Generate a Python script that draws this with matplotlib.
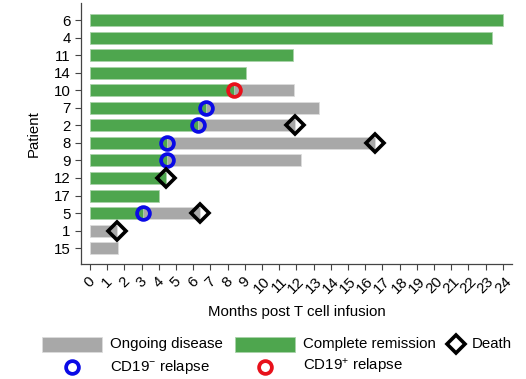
import numpy as np
import matplotlib.pyplot as plt
from matplotlib.patches import Rectangle
from matplotlib.lines import Line2D

plt.rcParams['font.family'] = ['Liberation Sans', 'DejaVu Sans']
plt.rcParams['mathtext.fontset'] = 'custom'
plt.rcParams['mathtext.rm'] = 'Liberation Sans'
plt.rcParams['mathtext.it'] = 'Liberation Sans:italic'

# swimmer data, top row first (months post infusion)
patients = ['6', '4', '11', '14', '10', '7', '2', '8', '9', '12', '17', '5', '1', '15']
remission = [24.0, 23.35, 11.8, 9.05, 8.35, 6.76, 6.3, 4.45, 4.45, 4.4, 3.99, 3.06, 0, 0]
follow_up = [24.0, 23.35, 11.8, 9.05, 11.86, 13.3, 11.9, 16.57, 12.27, 4.4, 3.99, 6.4, 1.55, 1.65]
cd19neg_pts = ['7', '2', '8', '9', '5']
cd19neg_time = [6.76, 6.3, 4.45, 4.45, 3.06]
cd19pos_pts = ['10']
cd19pos_time = [8.35]
death_pts = ['2', '8', '12', '5', '1']
death_time = [11.9, 16.57, 4.4, 6.4, 1.55]

GREEN = '#4ea64e'
GRAY = '#a8a8a8'
BLUE = '#0a0ae6'
RED = '#e8101a'
FS = 10.8
W, H = 526, 379

y = np.arange(len(patients))
row = {p: i for i, p in enumerate(patients)}
remission = np.array(remission)
follow_up = np.array(follow_up)

fig = plt.figure(figsize=(W / 100, H / 100), dpi=100)
ax = fig.add_axes([81 / W, 1 - 264 / H, (512 - 81) / W, (264 - 3) / H])

ongoing = follow_up - remission
m = ongoing > 0
ax.barh(y[m], ongoing[m], left=remission[m], height=0.68, color=GRAY,
        edgecolor='#dcdcdc', linewidth=0.6, zorder=2)
m = remission > 0
ax.barh(y[m], remission[m], height=0.68, color=GREEN,
        edgecolor='#a9d3a9', linewidth=0.6, zorder=2)

ax.plot(cd19neg_time, [row[p] for p in cd19neg_pts], 'o', ms=9.2, mfc='none',
        mec=BLUE, mew=2.7, zorder=3)
ax.plot(cd19pos_time, [row[p] for p in cd19pos_pts], 'o', ms=9.2, mfc='none',
        mec=RED, mew=2.7, zorder=3)
ax.plot(death_time, [row[p] for p in death_pts], 'D', ms=9.5, mfc='none',
        mec='black', mew=2.6, zorder=4)

ax.set_xlim(-0.52, 24.53)
ax.set_ylim(13.9, -0.97)
ax.set_yticks(y)
ax.set_yticklabels(patients, fontsize=FS)
ax.set_xticks(range(25))
ax.set_xticklabels([str(i) for i in range(25)], rotation=45, fontsize=FS)
ax.tick_params(length=4.5, width=0.8, color='#444444', pad=3)
ax.set_xlabel('Months post T cell infusion', fontsize=FS, labelpad=6)
ax.set_ylabel('Patient', fontsize=FS, labelpad=9)
for s in ['top', 'right']:
    ax.spines[s].set_visible(False)
for s in ['left', 'bottom']:
    ax.spines[s].set_color('#444444')
    ax.spines[s].set_linewidth(0.9)


# legend drawn in figure pixel coordinates
def fx(px):
    return px / W


def fy(py):
    return 1 - py / H


def patch(x0, x1, yc, color, edge):
    fig.add_artist(Rectangle((fx(x0), fy(yc + 7.5)), fx(x1 - x0), 15 / H,
                             facecolor=color, edgecolor=edge, linewidth=0.6,
                             transform=fig.transFigure))


def marker(xc, yc, mk, color, ms, mew):
    fig.add_artist(Line2D([fx(xc)], [fy(yc)], marker=mk, ms=ms, mfc='none',
                          mec=color, mew=mew, transform=fig.transFigure))


def label(x0, yc, s):
    fig.text(fx(x0), fy(yc), s, fontsize=FS, va='center', ha='left')


patch(42, 102, 344, GRAY, '#dcdcdc')
label(110, 344, 'Ongoing disease')
patch(235, 295, 344, GREEN, '#a9d3a9')
label(303, 344, 'Complete remission')
marker(456, 344, 'D', 'black', 9.5, 2.6)
label(472, 344, 'Death')
marker(72, 367, 'o', BLUE, 9.2, 2.7)
label(110, 367, 'CD19$^{-}$ relapse')
marker(265, 367, 'o', RED, 9.2, 2.7)
label(303, 367, 'CD19$^{+}$ relapse')

fig.savefig('out.png', dpi=100)
